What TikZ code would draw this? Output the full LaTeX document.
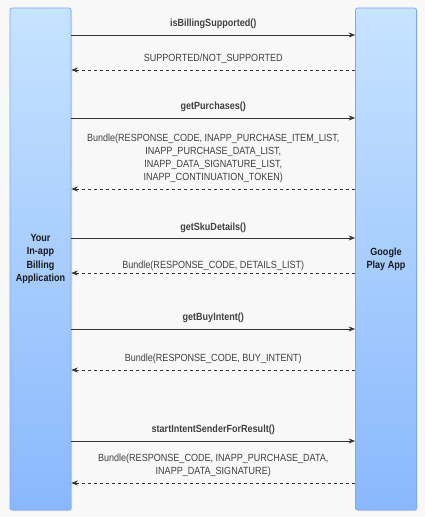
\documentclass[tikz,border=0pt]{standalone}
\usepackage{fontspec}
\setmainfont{Liberation Sans}[FakeStretch=0.87]
\usetikzlibrary{arrows.meta}
\definecolor{bg}{HTML}{F8F8F8}
\definecolor{bartop}{HTML}{C6E3FF}
\definecolor{barbot}{HTML}{8AB8FD}
\definecolor{barline}{HTML}{7FA9EE}
\definecolor{txt}{HTML}{404040}
\definecolor{arr}{HTML}{333333}
\tikzset{
  bar/.style={draw=barline, line width=0.7pt, rounded corners=2pt, top color=bartop, bottom color=barbot,
    minimum width=61pt, minimum height=502pt, inner sep=0pt, align=center,
    font=\fontsize{10.4}{13.3}\selectfont\bfseries, text=black!90},
  shadowbar/.style={fill=black!12, rounded corners=2pt, draw=none, minimum width=61pt, minimum height=502pt},
  call/.style={draw=arr, line width=0.7pt, -{Stealth[length=6.5pt,width=5pt]}},
  reply/.style={draw=arr, line width=0.6pt, dash pattern=on 3pt off 3pt, -{Stealth[length=6.5pt,width=5pt]}},
  calllbl/.style={font=\fontsize{10.4}{13}\selectfont\bfseries, text=txt, inner sep=0pt, align=center},
  replylbl/.style={font=\fontsize{10.4}{13}\selectfont, text=txt, inner sep=0pt, align=center}
}
\begin{document}
\begin{tikzpicture}[x=1pt,y=-1pt]
\useasboundingbox[fill=bg] (0,0) rectangle (425,517);
\node[shadowbar] (Ls) at (41.5,260) {};
\node[shadowbar] (Rs) at (387,260) {};
\node[bar] (L) at (40.5,259) {Your\\In-app\\Billing\\Application};
\node[bar] (R) at (386,259) {Google\\Play App};
% 1
\draw[call] (L.east |- 0,35) -- node[calllbl, yshift=11pt] (t1) {isBillingSupported()} (R.west |- 0,35);
\draw[reply] (R.west |- 0,70) -- node[replylbl, yshift=11pt] (t2) {SUPPORTED/NOT\_SUPPORTED} (L.east |- 0,70);
% 2
\draw[call] (L.east |- 0,118) -- node[calllbl, yshift=11pt] (t3) {getPurchases()} (R.west |- 0,118);
\draw[reply] (R.west |- 0,189) -- node[replylbl, yshift=30.5pt] (t4) {Bundle(RESPONSE\_CODE, INAPP\_PURCHASE\_ITEM\_LIST,\\INAPP\_PURCHASE\_DATA\_LIST,\\INAPP\_DATA\_SIGNATURE\_LIST,\\INAPP\_CONTINUATION\_TOKEN)} (L.east |- 0,189);
% 3
\draw[call] (L.east |- 0,238) -- node[calllbl, yshift=10pt] (t5) {getSkuDetails()} (R.west |- 0,238);
\draw[reply] (R.west |- 0,273) -- node[replylbl, yshift=6.8pt] (t6) {Bundle(RESPONSE\_CODE, DETAILS\_LIST)} (L.east |- 0,273);
% 4
\draw[call] (L.east |- 0,329) -- node[calllbl, yshift=11pt] (t7) {getBuyIntent()} (R.west |- 0,329);
\draw[reply] (R.west |- 0,370) -- node[replylbl, yshift=10.7pt] (t8) {Bundle(RESPONSE\_CODE, BUY\_INTENT)} (L.east |- 0,370);
% 5
\draw[call] (L.east |- 0,441) -- node[calllbl, yshift=11pt] (t9) {startIntentSenderForResult()} (R.west |- 0,441);
\draw[reply] (R.west |- 0,483) -- node[replylbl, yshift=17.6pt] (t10) {Bundle(RESPONSE\_CODE, INAPP\_PURCHASE\_DATA,\\INAPP\_DATA\_SIGNATURE)} (L.east |- 0,483);
\end{tikzpicture}
\end{document}
